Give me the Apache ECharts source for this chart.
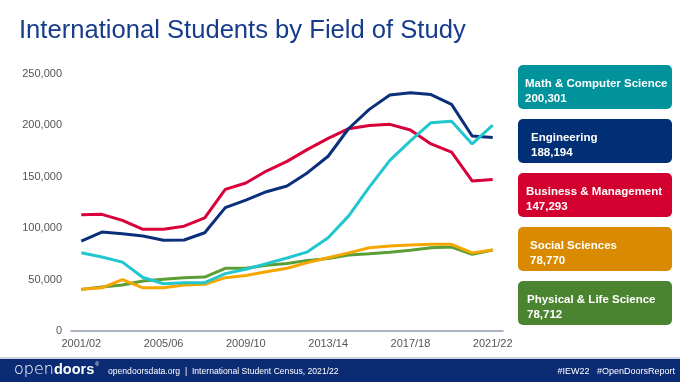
<!DOCTYPE html>
<html>
<head>
<meta charset="utf-8">
<script src="https://cdn.jsdelivr.net/npm/echarts@6/dist/echarts.min.js"></script>
<style>html,body{margin:0;padding:0;background:#fff}#c{width:680px;height:382px}</style>
</head>
<body>
<div id="c"></div>
<script>
const years = ['2001/02','2002/03','2003/04','2004/05','2005/06','2006/07','2007/08','2008/09','2009/10','2010/11','2011/12','2012/13','2013/14','2014/15','2015/16','2016/17','2017/18','2018/19','2019/20','2020/21','2021/22'];
const mathCS = [76200,72000,67000,52000,46000,47000,47000,55800,60000,65500,71000,77000,90800,112000,140000,166000,185000,202600,204000,182000,200301];
const engineering = [87500,96300,94700,92400,88200,88500,95600,120000,127400,135500,141000,154000,170000,197000,215600,229600,231800,230000,220500,189700,188194];
const business = [113000,113500,107600,98900,99000,102000,110000,137800,144000,155600,165000,176700,187400,196800,200000,201000,195500,182000,174000,146000,147293];
const social = [40500,42000,50000,42000,42000,44700,45400,51900,54000,57700,61000,66500,71300,76000,81000,82700,83700,84300,84300,76000,78770];
const physical = [40500,42800,44700,48600,50300,51900,52500,61000,61000,63900,65700,68700,70400,74000,75200,76500,78500,81000,81700,74600,78712];
const seriesNames = ['Math & Computer Science','Engineering','Business & Management','Social Sciences','Physical & Life Science'];
const yTicks = [0,50000,100000,150000,200000,250000];

const lineColors = ['#22C6CF','#0B2F7A','#D9003A','#F7A600','#5B9E35'];
const boxColors = ['#00939B','#002F76','#D3002F','#D98A00','#4B8431'];
const allData = [mathCS, engineering, business, social, physical];

const chart = echarts.init(document.getElementById('c'));
const fmt = v => v.toString().replace(/\B(?=(\d{3})+(?!\d))/g, ',');
const FF = '"Liberation Sans", Arial, sans-serif';

const boxes = [];
const boxTop = [65,119,173,227,281];
const textLeft = [525,531,526,530,527];
seriesNames.forEach((n,i)=>{
  boxes.push({type:'rect', shape:{x:518,y:boxTop[i],width:154,height:44,r:5}, style:{fill:boxColors[i]}});
  boxes.push({type:'text', x:textLeft[i], y:boxTop[i]+11, style:{text:n+'\n'+fmt(allData[i][allData[i].length-1]), fill:'#fff', font:'bold 11.5px ' + FF, lineHeight:15}});
});

chart.setOption({
  animation:false,
  title:{text:'International Students by Field of Study', left:14, top:13, textStyle:{color:'#173C8C', fontSize:25.6, fontWeight:'normal', fontFamily:FF}},
  grid:{left:71, right:177, top:74, bottom:51},
  xAxis:{type:'category', data:years, boundaryGap:true,
    axisLine:{lineStyle:{color:'#8E9BAE', width:1.5}}, axisTick:{show:false},
    axisLabel:{interval:3, color:'#555', fontSize:11, margin:7, fontFamily:FF}},
  yAxis:{type:'value', min:yTicks[0], max:yTicks[yTicks.length-1], interval:50000,
    axisLine:{show:false}, axisTick:{show:false}, splitLine:{show:false},
    axisLabel:{color:'#555', fontSize:11, margin:9, formatter:v=>fmt(v), fontFamily:FF}},
  series: seriesNames.map((n,i)=>({name:n, type:'line', data:allData[i], symbol:'none', z:10-i,
    lineStyle:{color:lineColors[i], width:3}})).reverse(),
  graphic:[
    ...boxes,
    {type:'rect', shape:{x:0,y:357,width:680,height:2}, style:{fill:'#CDD4DE'}},
    {type:'rect', shape:{x:0,y:359,width:680,height:23}, style:{fill:'#0B2C74'}},
    {type:'text', x:14, y:362, style:{text:'{a|open}{b|doors}{c|®}', fill:'#fff', rich:{
      a:{fontSize:16, fill:'#fff', fontFamily:'"DejaVu Sans", sans-serif', fontWeight:200},
      b:{fontSize:14.5, fill:'#fff', fontFamily:FF, fontWeight:'bold'},
      c:{fontSize:5, fill:'#fff', verticalAlign:'top', padding:[0,0,10,1]}}}},
    {type:'text', x:108, y:367, style:{text:'opendoorsdata.org  |  International Student Census, 2021/22', fill:'#fff', font:'8.6px ' + FF}},
    {type:'text', x:675, y:367, style:{text:'#IEW22   #OpenDoorsReport', fill:'#fff', align:'right', font:'9px ' + FF}}
  ]
});
</script>
</body>
</html>
